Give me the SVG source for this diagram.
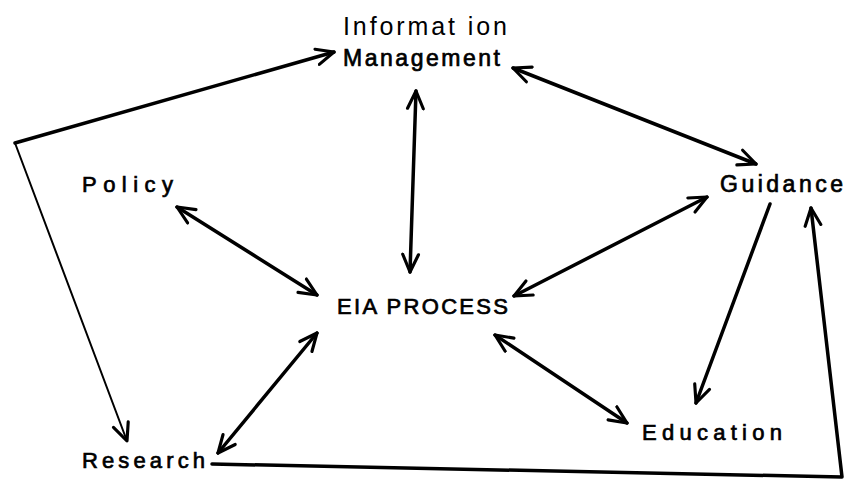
<svg xmlns="http://www.w3.org/2000/svg" width="848" height="481" viewBox="0 0 848 481">
<style>
text{font-family:"Liberation Sans","DejaVu Sans",sans-serif;font-size:22px;fill:#000;stroke:#000;stroke-width:0.7}
.thin{font-size:25px;stroke:none}
.c{fill:none;stroke:#000;stroke-width:3.5;stroke-linecap:round;stroke-linejoin:round}
.t{stroke-width:2}
</style>
<defs>
<marker id="a" viewBox="0 0 12 12" refX="11" refY="6" markerWidth="21" markerHeight="21" markerUnits="userSpaceOnUse" orient="auto-start-reverse">
<path d="M1,1.5 L11,6 L1,10.5" fill="none" stroke="#000" stroke-width="1.8" stroke-linecap="round" stroke-linejoin="round"/>
</marker>
</defs>
<rect width="848" height="481" fill="#fff"/>
<g id="connectors">
<path class="c" d="M15,143 L334,52" marker-end="url(#a)"/>
<path class="c t" d="M15,143 L127,441" marker-end="url(#a)"/>
<path class="c" d="M416,91 L410,272" marker-start="url(#a)" marker-end="url(#a)"/>
<path class="c" d="M513,68 L756,164" marker-start="url(#a)" marker-end="url(#a)"/>
<path class="c" d="M177,207 L317,295" marker-start="url(#a)" marker-end="url(#a)"/>
<path class="c" d="M707,197 L514,296" marker-start="url(#a)" marker-end="url(#a)"/>
<path class="c" d="M317,333 L218,453" marker-start="url(#a)" marker-end="url(#a)"/>
<path class="c" d="M495,335 L627,423" marker-start="url(#a)" marker-end="url(#a)"/>
<path class="c" d="M770,204 L696,403" marker-end="url(#a)"/>
<path class="c" d="M212,464 L842,477 L811,208" marker-end="url(#a)"/>
</g>
<g id="information-management">
<text class="thin" x="343" y="35" textLength="164" lengthAdjust="spacing">Informat ion</text>
<text x="343" y="66" textLength="157" lengthAdjust="spacing" style="font-size:23px">Management</text>
</g>
<g id="policy"><text x="82" y="192" textLength="91" lengthAdjust="spacing">Policy</text></g>
<g id="guidance"><text x="720" y="192" textLength="123" lengthAdjust="spacing" style="font-size:23px">Guidance</text></g>
<g id="eia-process"><text x="337" y="314" textLength="171" lengthAdjust="spacing">EIA PROCESS</text></g>
<g id="research"><text x="82" y="468" textLength="123" lengthAdjust="spacing">Research</text></g>
<g id="education"><text x="642" y="440" textLength="140" lengthAdjust="spacing">Education</text></g>
</svg>
